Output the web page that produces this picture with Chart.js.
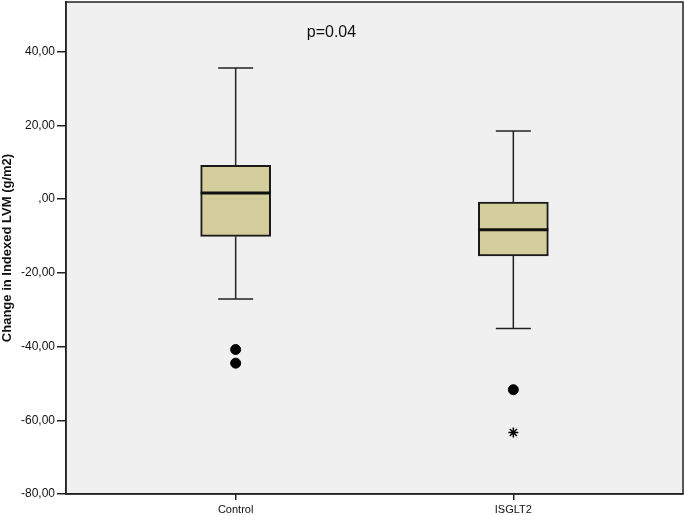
<!DOCTYPE html>
<html>
<head>
    <meta charset='UTF-8'>
    <title></title>
    <style>
        body { margin: 0; background: #fff; }
        #chart-container { width: 685px; height: 515px; }
    </style>
</head>
<body>
    <script src="https://cdn.jsdelivr.net/npm/chart.js@4/dist/chart.umd.min.js"></script>
    <div id="chart-container">
        <canvas id="chart" width="685" height="515"></canvas>
    </div>
    <script>
        // box plot values
        let groups = ['Control', 'ISGLT2'];
        let whiskerLow = [-27.1, -35.1];
        let q1 = [-10.1, -15.4];
        let median = [1.7, -8.3];
        let q3 = [9.2, -0.8];
        let whiskerHigh = [35.6, 18.5];
        let outliers = [[-40.8, -44.5], [-51.7]];
        let extremes = [[], [-63.3]];
        let yTicks = [-80, -60, -40, -20, 0, 20, 40];
        let pText = 'p=0.04';
        let pPos = { x: 1.345, y: 45.3 };

        const font = "'Liberation Sans', Arial, sans-serif";

        function fmt(v) {
            if (v === 0) return ',00';
            return v.toFixed(2).replace('.', ',');
        }

        let outlierPts = [];
        let extremePts = [];
        groups.forEach(function(g, i) {
            outliers[i].forEach(function(v) { outlierPts.push({x: i + 1, y: v}); });
            extremes[i].forEach(function(v) { extremePts.push({x: i + 1, y: v}); });
        });

        const boxPlugin = {
            id: 'boxPlugin',
            beforeDraw(chart) {
                const ctx = chart.ctx, a = chart.chartArea;
                ctx.save();
                ctx.fillStyle = '#ffffff';
                ctx.fillRect(0, 0, chart.width, chart.height);
                ctx.fillStyle = '#f0f0f0';
                ctx.fillRect(a.left, a.top, a.right - a.left, a.bottom - a.top);
                ctx.restore();
            },
            beforeDatasetsDraw(chart) {
                const ctx = chart.ctx, xs = chart.scales.x, ys = chart.scales.y;
                ctx.save();
                ctx.strokeStyle = '#222';
                ctx.lineWidth = 1.5;
                groups.forEach(function(g, i) {
                    const cx = xs.getPixelForValue(i + 1);
                    const half = 17.5;
                    [[q3[i], whiskerHigh[i]], [q1[i], whiskerLow[i]]].forEach(function(p) {
                        ctx.beginPath();
                        ctx.moveTo(cx, ys.getPixelForValue(p[0]));
                        ctx.lineTo(cx, ys.getPixelForValue(p[1]));
                        ctx.moveTo(cx - half, ys.getPixelForValue(p[1]));
                        ctx.lineTo(cx + half, ys.getPixelForValue(p[1]));
                        ctx.stroke();
                    });
                });
                ctx.restore();
            },
            afterDatasetsDraw(chart) {
                const ctx = chart.ctx, xs = chart.scales.x, ys = chart.scales.y, a = chart.chartArea;
                ctx.save();
                ctx.strokeStyle = '#111';
                ctx.lineWidth = 3;
                groups.forEach(function(g, i) {
                    const cx = xs.getPixelForValue(i + 1);
                    const y = ys.getPixelForValue(median[i]);
                    ctx.beginPath();
                    ctx.moveTo(cx - 35, y);
                    ctx.lineTo(cx + 35, y);
                    ctx.stroke();
                });
                // frame
                ctx.lineWidth = 1.5;
                ctx.strokeStyle = '#222';
                ctx.strokeRect(a.left, a.top, a.right - a.left, a.bottom - a.top);
                // p value
                ctx.fillStyle = '#111';
                ctx.font = '16px ' + font;
                ctx.textAlign = 'center';
                ctx.textBaseline = 'middle';
                ctx.fillText(pText, xs.getPixelForValue(pPos.x), ys.getPixelForValue(pPos.y));
                ctx.restore();
            }
        };

        let context = document.getElementById('chart').getContext('2d');
        let chart = new Chart(context, {
            type: 'bar',
            data: {
                datasets: [{
                    label: 'box',
                    data: groups.map(function(g, i) { return {x: i + 1, y: [q1[i], q3[i]]}; }),
                    backgroundColor: '#d3ce9b',
                    borderColor: '#1a1a1a',
                    borderWidth: 2,
                    borderSkipped: false,
                    barThickness: 70
                }, {
                    type: 'scatter',
                    label: 'outliers',
                    data: outlierPts,
                    pointStyle: 'circle',
                    pointRadius: 5,
                    backgroundColor: '#000',
                    borderColor: '#000'
                }, {
                    type: 'scatter',
                    label: 'extremes',
                    data: extremePts,
                    pointStyle: 'star',
                    pointRadius: 5,
                    borderWidth: 1.5,
                    borderColor: '#000'
                }]
            },
            options: {
                responsive: false,
                animation: false,
                layout: { autoPadding: false, padding: { top: 2, right: 2, left: 0, bottom: 0 } },
                plugins: { legend: { display: false }, tooltip: { enabled: false } },
                scales: {
                    x: {
                        type: 'linear',
                        offset: false,
                        min: 0.389,
                        max: 2.611,
                        afterBuildTicks(s) { s.ticks = [{value: 1}, {value: 2}]; },
                        afterFit(s) { s.height = 21; s.paddingLeft = 0; s.paddingRight = 0; },
                        ticks: {
                            autoSkip: false,
                            maxRotation: 0,
                            padding: 3,
                            color: '#111',
                            font: { family: font, size: 11 },
                            callback: function(v) { return groups[v - 1]; }
                        },
                        grid: { offset: false, drawOnChartArea: false, drawTicks: true, tickLength: 6, color: '#222', lineWidth: 1.5 },
                        border: { display: true, color: '#222', width: 1.5 }
                    },
                    y: {
                        min: -80,
                        max: 53.5,
                        afterBuildTicks(s) { s.ticks = yTicks.map(function(v) { return {value: v}; }); },
                        afterFit(s) { s.width = 66; s.paddingTop = 0; s.paddingBottom = 0; },
                        title: {
                            display: true,
                            text: 'Change in Indexed LVM (g/m2)',
                            color: '#111',
                            font: { family: font, size: 13, weight: 'bold' },
                            padding: 0
                        },
                        ticks: {
                            color: '#111',
                            padding: 2,
                            font: { family: font, size: 12 },
                            callback: function(v) { return fmt(v); }
                        },
                        grid: { drawOnChartArea: false, drawTicks: true, tickLength: 9, color: '#222', lineWidth: 1.5 },
                        border: { display: true, color: '#222', width: 1.5 }
                    }
                }
            },
            plugins: [boxPlugin]
        });
    </script>
</body>
</html>
